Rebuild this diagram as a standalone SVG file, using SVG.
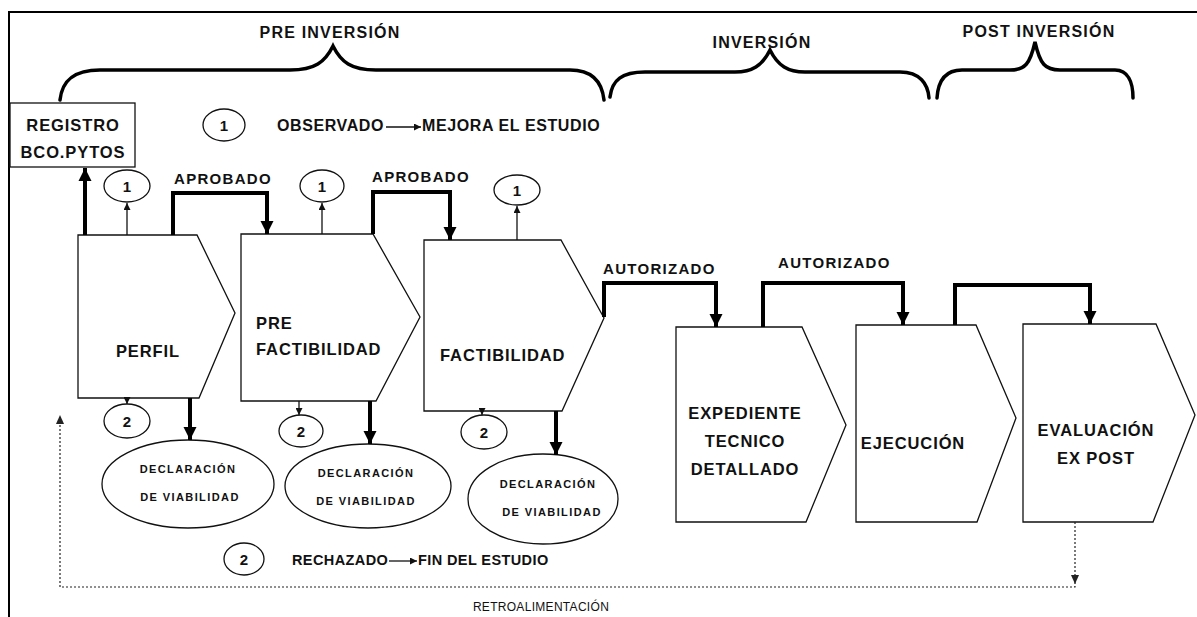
<svg xmlns="http://www.w3.org/2000/svg" width="1197" height="617" viewBox="0 0 1197 617">
<style>
  text { font-family: "Liberation Sans", Arial, sans-serif; font-weight: bold; fill: #111; }
  .ph { font-size: 16px; letter-spacing: 1.2px; }
  .lg { font-size: 16px; letter-spacing: 0.6px; }
  .lg2 { font-size: 14.5px; letter-spacing: 0.4px; }
  .nd { font-size: 16.5px; letter-spacing: 0.9px; }
  .cn { font-size: 15px; letter-spacing: 1.3px; }
  .dc { font-size: 11px; letter-spacing: 1.4px; }
  .num { font-size: 15px; }
  .fb { font-size: 12px; font-weight: normal; letter-spacing: 0.3px; }
  .shape { fill: #fff; stroke: #111; stroke-width: 1.3; }
  .brace { fill: none; stroke: #000; stroke-width: 3.5; stroke-linecap: round; }
  .thin { fill: none; stroke: #111; stroke-width: 1.3; }
  .thick { fill: none; stroke: #000; stroke-width: 4; }
  .dots { fill: none; stroke: #222; stroke-width: 1.2; stroke-dasharray: 2 2; }
</style>
<defs>
  <marker id="ah" viewBox="0 0 10 10" refX="10" refY="5" markerWidth="7" markerHeight="7" markerUnits="userSpaceOnUse" orient="auto">
    <path d="M0,0 L10,5 L0,10 Z" fill="#111"/>
  </marker>
  <marker id="ahb" viewBox="0 0 10 10" refX="10" refY="5" markerWidth="3.3" markerHeight="3.3" orient="auto">
    <path d="M0,0 L10,5 L0,10 Z" fill="#000"/>
  </marker>
</defs>
<rect width="1197" height="617" fill="#fff"/>

<!-- frame -->
<g id="frame">
  <path d="M9,617 L9,12 L1197,12" fill="none" stroke="#000" stroke-width="2"/>
</g>

<!-- braces and phase titles -->
<g id="phases">
  <path class="brace" d="M60,100 C62,82 72,70 100,70 L290,70 C315,70 325,62 333,46 C341,62 351,70 376,70 L570,70 C592,70 602,82 604,100"/>
  <text class="ph" x="330" y="38" text-anchor="middle">PRE INVERSIÓN</text>
  <path class="brace" d="M610,97 C612,80 622,72 645,72 L735,72 C752,72 762,66 770,50 C778,66 788,72 805,72 L900,72 C920,72 928,84 929,98"/>
  <text class="ph" x="762" y="48" text-anchor="middle">INVERSIÓN</text>
  <path class="brace" d="M937,98 C938,82 944,70 962,70 L1010,70 C1025,70 1030,64 1035,42 C1040,64 1045,70 1060,70 L1115,70 C1128,70 1133,82 1133,98"/>
  <text class="ph" x="1039" y="37" text-anchor="middle">POST INVERSIÓN</text>
</g>

<!-- legend -->
<g id="legend1">
  <ellipse class="thin" cx="224" cy="125" rx="21" ry="16"/>
  <text class="num" x="224" y="131" text-anchor="middle">1</text>
  <text class="lg" x="277" y="131">OBSERVADO</text>
  <line class="thin" x1="386" y1="127" x2="421" y2="127" marker-end="url(#ah)"/>
  <text class="lg" x="422" y="131">MEJORA EL ESTUDIO</text>
</g>
<g id="legend2">
  <ellipse class="thin" cx="244" cy="559" rx="20" ry="16"/>
  <text class="num" x="244" y="565" text-anchor="middle">2</text>
  <text class="lg2" x="292" y="565">RECHAZADO</text>
  <line class="thin" x1="389" y1="561" x2="417" y2="561" marker-end="url(#ah)"/>
  <text class="lg2" x="418" y="565">FIN DEL ESTUDIO</text>
</g>

<!-- registro -->
<g id="registro">
  <rect class="shape" x="10" y="103" width="125" height="64"/>
  <text class="nd" x="73" y="131" text-anchor="middle">REGISTRO</text>
  <text class="nd" x="73" y="158" text-anchor="middle">BCO.PYTOS</text>
</g>

<!-- main process nodes -->
<g id="perfil">
  <path class="shape" d="M78,235 L197,235 L235,313 L199,398 L78,398 Z"/>
  <text class="nd" x="148" y="357" text-anchor="middle">PERFIL</text>
</g>
<g id="prefactibilidad">
  <path class="shape" d="M241,234 L373,234 L420,317 L376,401 L241,401 Z"/>
  <text class="nd" x="256" y="329">PRE</text>
  <text class="nd" x="256" y="355">FACTIBILIDAD</text>
</g>
<g id="factibilidad">
  <path class="shape" d="M424,240 L561,240 L604,318 L562,411 L424,411 Z"/>
  <text class="nd" x="440" y="361">FACTIBILIDAD</text>
</g>
<g id="expediente">
  <path class="shape" d="M676,327 L802,327 L846,425 L806,522 L676,522 Z"/>
  <text class="nd" x="745" y="419" text-anchor="middle">EXPEDIENTE</text>
  <text class="nd" x="745" y="447" text-anchor="middle">TECNICO</text>
  <text class="nd" x="745" y="475" text-anchor="middle">DETALLADO</text>
</g>
<g id="ejecucion">
  <path class="shape" d="M856,325 L976,325 L1016,418 L977,522 L856,522 Z"/>
  <text class="nd" x="913" y="449" text-anchor="middle">EJECUCIÓN</text>
</g>
<g id="evaluacion">
  <path class="shape" d="M1023,324 L1156,324 L1195,415 L1153,522 L1023,522 Z"/>
  <text class="nd" x="1096" y="436" text-anchor="middle">EVALUACIÓN</text>
  <text class="nd" x="1096" y="464" text-anchor="middle">EX POST</text>
</g>

<!-- observation circles (1) -->
<g id="obs1"><ellipse class="thin" cx="127" cy="186" rx="23" ry="16"/><text class="num" x="127" y="192" text-anchor="middle">1</text></g>
<g id="obs2"><ellipse class="thin" cx="322" cy="186" rx="22" ry="16"/><text class="num" x="322" y="192" text-anchor="middle">1</text></g>
<g id="obs3"><ellipse class="thin" cx="517" cy="190" rx="23" ry="15"/><text class="num" x="517" y="196" text-anchor="middle">1</text></g>

<!-- rejection circles (2) -->
<g id="rej1"><ellipse class="thin" cx="127" cy="421" rx="23" ry="17"/><text class="num" x="127" y="427" text-anchor="middle">2</text></g>
<g id="rej2"><ellipse class="thin" cx="301" cy="431" rx="22" ry="16"/><text class="num" x="301" y="437" text-anchor="middle">2</text></g>
<g id="rej3"><ellipse class="thin" cx="484" cy="432" rx="23" ry="17"/><text class="num" x="484" y="438" text-anchor="middle">2</text></g>

<!-- declaration ellipses -->
<g id="decl1">
  <ellipse class="thin" cx="188" cy="484" rx="86" ry="44"/>
  <text class="dc" x="188" y="473" text-anchor="middle">DECLARACIÓN</text>
  <text class="dc" x="190" y="501" text-anchor="middle">DE VIABILIDAD</text>
</g>
<g id="decl2">
  <ellipse class="thin" cx="368" cy="486" rx="83" ry="42"/>
  <text class="dc" x="366" y="477" text-anchor="middle">DECLARACIÓN</text>
  <text class="dc" x="366" y="505" text-anchor="middle">DE VIABILIDAD</text>
</g>
<g id="decl3">
  <ellipse class="thin" cx="543" cy="499" rx="75" ry="45"/>
  <text class="dc" x="548" y="488" text-anchor="middle">DECLARACIÓN</text>
  <text class="dc" x="552" y="516" text-anchor="middle">DE VIABILIDAD</text>
</g>

<!-- connectors -->
<g id="connectors">
  <line x1="85" y1="235" x2="85" y2="168" stroke="#000" stroke-width="4" marker-end="url(#ahb)"/>
  <line class="thin" x1="127" y1="235" x2="127" y2="203" marker-end="url(#ah)"/>
  <line class="thin" x1="322" y1="234" x2="322" y2="203" marker-end="url(#ah)"/>
  <line class="thin" x1="517" y1="240" x2="517" y2="206" marker-end="url(#ah)"/>
  <path class="thick" d="M173,235 L173,193 L267,193 L267,234" marker-end="url(#ahb)"/>
  <text class="cn" x="174" y="184">APROBADO</text>
  <path class="thick" d="M373,234 L373,192 L450,192 L450,240" marker-end="url(#ahb)"/>
  <text class="cn" x="372" y="182">APROBADO</text>
  <path class="thick" d="M604,317 L604,283 L716,283 L716,327" marker-end="url(#ahb)"/>
  <text class="cn" x="603" y="274">AUTORIZADO</text>
  <path class="thick" d="M763,327 L763,283 L903,283 L903,325" marker-end="url(#ahb)"/>
  <text class="cn" x="778" y="268">AUTORIZADO</text>
  <path class="thick" d="M955,325 L955,285 L1090,285 L1090,324" marker-end="url(#ahb)"/>
  <line class="thin" x1="127" y1="398" x2="127" y2="404" marker-end="url(#ah)"/>
  <line class="thin" x1="299" y1="401" x2="299" y2="415" marker-end="url(#ah)"/>
  <line class="thin" x1="482" y1="411" x2="482" y2="415" marker-end="url(#ah)"/>
  <line x1="190" y1="398" x2="190" y2="440" stroke="#000" stroke-width="4" marker-end="url(#ahb)"/>
  <line x1="370" y1="401" x2="370" y2="444" stroke="#000" stroke-width="4" marker-end="url(#ahb)"/>
  <line x1="556" y1="411" x2="556" y2="455" stroke="#000" stroke-width="4" marker-end="url(#ahb)"/>
  <path class="dots" d="M1075,522 L1075,587 L60,587 L60,416"/>
  <path d="M1071,575 L1079,575 L1075,584 Z" fill="#222"/>
  <path d="M56,424 L64,424 L60,415 Z" fill="#222"/>
  <text class="fb" x="541" y="611" text-anchor="middle">RETROALIMENTACIÓN</text>
</g>
</svg>
